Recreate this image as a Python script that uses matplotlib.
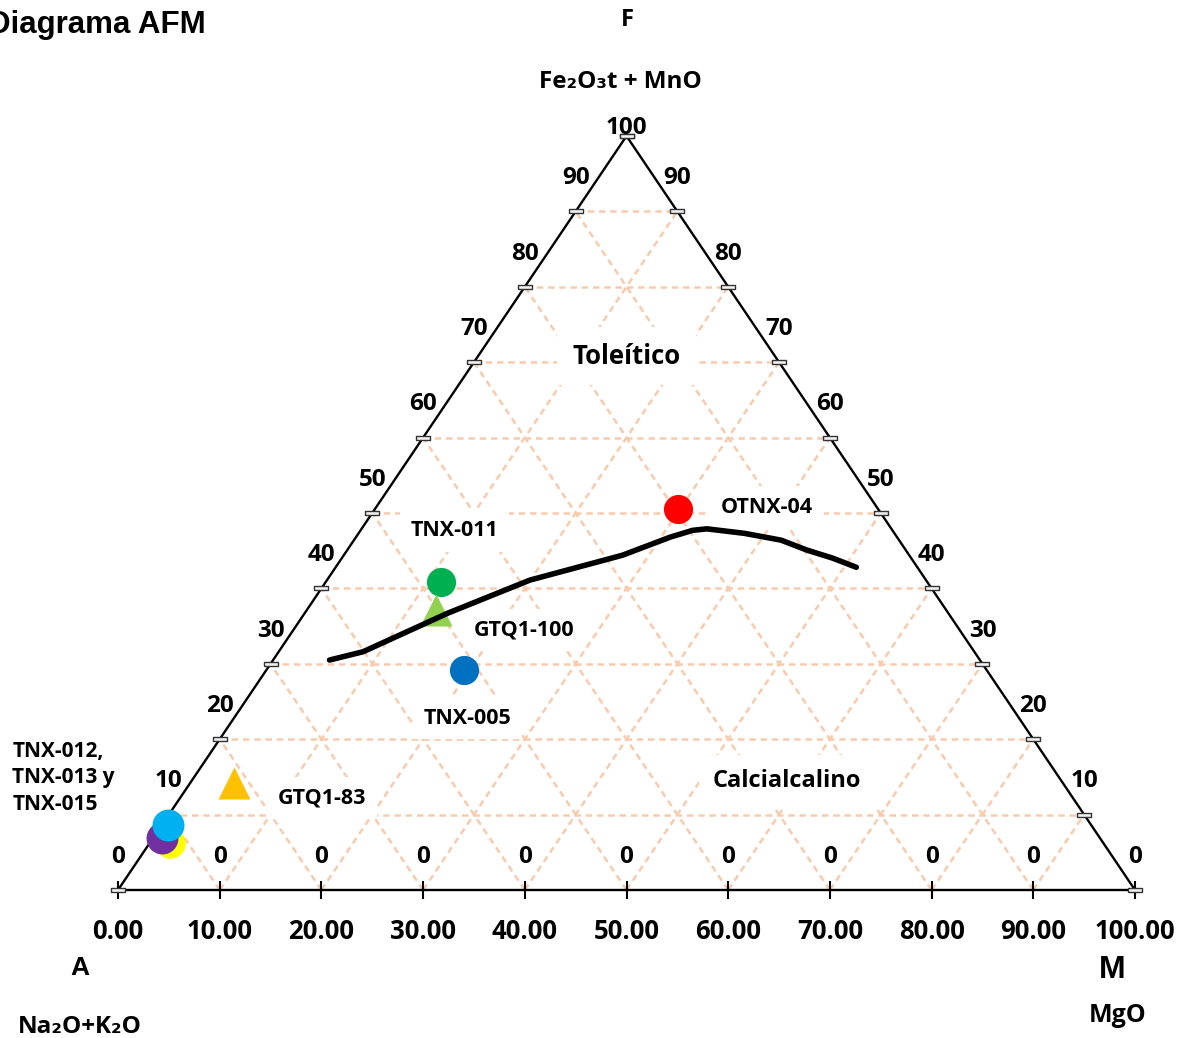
import numpy as np
import matplotlib
matplotlib.use("Agg")
import matplotlib.pyplot as plt

plt.rcParams['font.family'] = ['Open Sans', 'DejaVu Sans']
plt.rcParams['font.weight'] = 'bold'

# Muestras: x = posicion sobre el eje A-M, f = % de F (Fe2O3t + MnO)
muestras = ["OTNX-04", "TNX-011", "GTQ1-100", "TNX-005", "GTQ1-83", "TNX-012", "TNX-013", "TNX-015"]
muestras_x = [55.1, 31.8, 31.3, 34.0, 11.4, 5.1, 4.3, 4.9]
muestras_f = [50.5, 40.9, 37.1, 29.2, 14.2, 6.2, 6.9, 8.6]

# Linea divisoria toleitico / calcialcalino (dibujada a mano)
limite_x = [20.8, 24.1, 32.4, 40.5, 49.6, 54.3, 56.5, 57.9, 61.6, 65.2, 67.7, 70.3, 72.6]
limite_f = [30.5, 31.6, 36.7, 41.1, 44.4, 46.8, 47.7, 47.9, 47.3, 46.4, 45.1, 44.0, 42.8]

niveles = [10, 20, 30, 40, 50, 60, 70, 80, 90]
eje_x = [0, 10, 20, 30, 40, 50, 60, 70, 80, 90, 100]
etiquetas_borde = ["0", "10", "20", "30", "40", "50", "60", "70", "80", "90", "100"]

# estilos de cada muestra
colores = ["#FF0000", "#00B050", "#92D050", "#0070C0", "#FFC000", "#FFFF00", "#7030A0", "#00B0F0"]
marcas = ["o", "o", "^", "o", "^", "o", "o", "o"]
tamanos = [21, 21, 23, 21, 23, 22, 23, 23]

color_grilla = "#F8CBAD"
guion = (0, (2.6, 1.9))

fig = plt.figure(figsize=(11.8, 10.38), dpi=100)
ax = fig.add_axes([118 / 1180, 148 / 1038, 1017 / 1180, 754 / 1038])
ax.set_xlim(0, 100)
ax.set_ylim(0, 100)
for s in ["top", "left", "right"]:
    ax.spines[s].set_visible(False)
ax.spines["bottom"].set_linewidth(1.7)
ax.set_yticks([])
ax.set_xticks(eje_x)
ax.set_xticklabels(["%.2f" % v for v in eje_x])
ax.tick_params(axis="x", direction="inout", length=13, width=1.5, pad=14, labelsize=18.5)

# grilla triangular
for f in niveles:
    ax.plot([f / 2, 100 - f / 2], [f, f], color=color_grilla, lw=1.8, ls=guion, zorder=1)
for k in niveles:
    ax.plot([k, 50 + k / 2], [0, 100 - k], color=color_grilla, lw=1.8, ls=guion, zorder=1)
    ax.plot([k, k / 2], [0, k], color=color_grilla, lw=1.8, ls=guion, zorder=1)

# bordes del triangulo
ax.plot([0, 50, 100], [0, 100, 0], color="black", lw=1.7, zorder=2.5, clip_on=False)

# marcas rectangulares de los bordes
rect = [(-1, -0.32), (1, -0.32), (1, 0.32), (-1, 0.32), (-1, -0.32)]
niv_borde = np.array(eje_x)
ax.plot(niv_borde / 2, niv_borde, ls="none", marker=rect, ms=10, mfc="#f2f2f2",
        mec="#333333", mew=1, zorder=3, clip_on=False)
ax.plot(100 - niv_borde / 2, niv_borde, ls="none", marker=rect, ms=10, mfc="#f2f2f2",
        mec="#333333", mew=1, zorder=3, clip_on=False)

# etiquetas de los bordes
for f, t in zip(eje_x[:-1], etiquetas_borde[:-1]):
    ax.text(f / 2, f + 4.4, t, ha="center", va="center", fontsize=17.5, clip_on=False)
    ax.text(100 - f / 2, f + 4.4, t, ha="center", va="center", fontsize=17.5, clip_on=False)
for k in niveles:
    ax.text(k, 4.4, "0", ha="center", va="center", fontsize=17.5)
ax.text(50, 101.1, etiquetas_borde[-1], ha="center", va="center", fontsize=17.5, clip_on=False)

caja = dict(facecolor="white", edgecolor="none", boxstyle="square,pad=0.5")

# muestras
for x, f, c, m, s in zip(muestras_x, muestras_f, colores, marcas, tamanos):
    ax.plot(x, f, ls="none", marker=m, ms=s, color=c, mec="none", zorder=4, clip_on=False)

ax.plot(limite_x, limite_f, color="black", lw=4, solid_capstyle="round",
        solid_joinstyle="round", zorder=5)

# nombres de las muestras
ax.text(63.8, 50.7, "OTNX-04", ha="center", va="center", fontsize=15.5, bbox=caja, zorder=2)
ax.text(33.1, 47.7, "TNX-011", ha="center", va="center", fontsize=15.5, bbox=caja, zorder=2)
ax.text(39.9, 34.5, "GTQ1-100", ha="center", va="center", fontsize=15.5, bbox=caja, zorder=2)
ax.text(34.4, 22.8, "TNX-005", ha="center", va="center", fontsize=15.5, bbox=caja, zorder=2)
ax.text(20.1, 12.2, "GTQ1-83", ha="center", va="center", fontsize=15.5, bbox=caja, zorder=2)
ax.text(-10.4, 14.9, "TNX-012,\nTNX-013 y\nTNX-015", ha="left", va="center", fontsize=15,
        linespacing=1.35, clip_on=False, zorder=2)

ax.text(50.0, 70.8, "Toleítico", ha="center", va="center", fontsize=18.5,
        bbox=dict(facecolor="white", edgecolor="none", boxstyle="square,pad=0.6"), zorder=2)
ax.text(65.8, 14.5, "Calcialcalino", ha="center", va="center", fontsize=17,
        bbox=dict(facecolor="white", edgecolor="none", boxstyle="square,pad=0.6"), zorder=2)

# titulos de los vertices
fig.text(-0.01, 1 - 25 / 1038, "Diagrama AFM", ha="left", va="center", fontsize=22.5,
         family="Liberation Sans")
fig.text(627 / 1180, 1 - 20 / 1038, "F", ha="center", va="center", fontsize=17)
fig.text(620 / 1180, 1 - 82 / 1038, "Fe₂O₃t + MnO", ha="center", va="center", fontsize=17.5)
fig.text(80 / 1180, 1 - 968 / 1038, "A", ha="center", va="center", fontsize=19,
         family="Liberation Sans")
fig.text(80 / 1180, 1 - 1027 / 1038, "Na₂O+K₂O", ha="center", va="center", fontsize=17.5)
fig.text(1112 / 1180, 1 - 970 / 1038, "M", ha="center", va="center", fontsize=23,
         family="Liberation Sans")
fig.text(1118 / 1180, 1 - 1016 / 1038, "MgO", ha="center", va="center", fontsize=18)

fig.savefig("out.png", dpi=100)
